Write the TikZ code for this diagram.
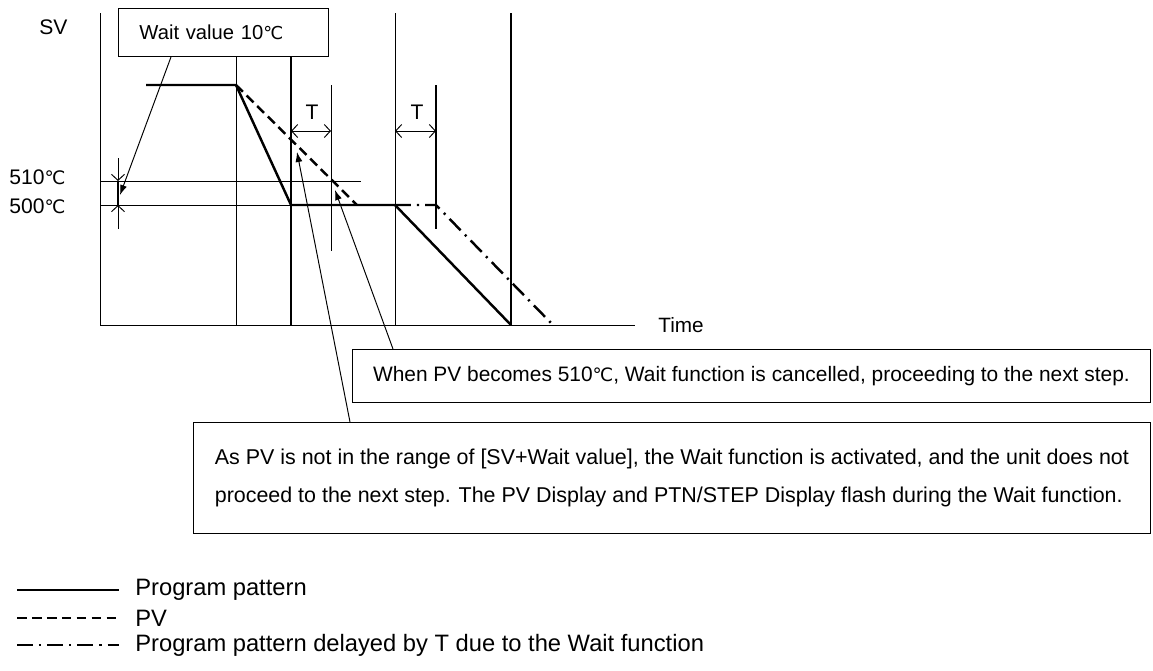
\documentclass[tikz,border=0pt]{standalone}
\usepackage{fontspec}
\setmainfont{Liberation Sans}
\newfontfamily\symfont{DejaVu Sans}
\usetikzlibrary{arrows.meta,calc}
\newcommand{\degC}{{\symfont\scalebox{0.88}{℃}}}
\newcommand{\fsz}[1]{\fontsize{#1}{1.2\dimexpr#1pt\relax}\selectfont}

\begin{document}
\begin{tikzpicture}[
    x=0.02cm, y=-0.02cm,
    font=\fsz{11},
    lbl/.style={inner sep=0pt},
    thin line/.style={line width=0.55pt},
    thick line/.style={line width=1.1pt},
    prog/.style={line width=1.4pt},
    pv/.style={line width=1.4pt, dash pattern=on 5.5pt off 3pt},
    delayed/.style={line width=1.4pt, dash pattern=on 9pt off 3.5pt on 1.2pt off 3.5pt},
    callout/.style={draw, line width=0.55pt, inner sep=0pt},
    pointer/.style={line width=0.55pt, -{Latex[length=0.2cm, width=0.14cm]}},
    dimarrow/.style={line width=0.55pt, -{Straight Barb[length=0.12cm, width=0.26cm]}},
    dimboth/.style={line width=0.55pt, {Straight Barb[length=0.12cm, width=0.26cm]}-{Straight Barb[length=0.12cm, width=0.26cm]}}
]
\useasboundingbox (0,0) rectangle (1153,670);

% ── Callout boxes ────────────────────────────────────────────────────────────
\node[callout, anchor=north west, minimum height=0.96cm, inner xsep=0.42cm,
      text width=3.36cm, align=left, font=\fsz{11.5}] (wait) at (118,8) {Wait value 10\degC};
\node[callout, anchor=north west, minimum width=15.96cm, minimum height=1.06cm, font=\fsz{11.9}] (cancel)
      at (352,349) {When PV becomes 510\degC, Wait function is cancelled, proceeding to the next step.};
\node[callout, anchor=north west, minimum width=19.14cm, minimum height=2.22cm, align=left,
      font=\fontsize{12.2}{21.5}\selectfont] (act) at (193,422)
      {As PV is not in the range of [SV+Wait value], the Wait function is activated, and the unit does not\\
       proceed to the next step. The PV Display and PTN/STEP Display flash during the Wait function.};

% ── Axis labels ──────────────────────────────────────────────────────────────
\node[lbl, anchor=west, font=\fsz{12}] (sv) at (39,27) {SV};
\node[lbl, anchor=west, font=\fsz{11.8}] (time) at (658,325) {Time};
\node[lbl, anchor=west, font=\fsz{12}] (t510) at (9,177) {510\degC};
\node[lbl, anchor=west, font=\fsz{12}] (t500) at (9,206) {500\degC};
\node[lbl, font=\fsz{12}] (tA) at (312,112) {T};
\node[lbl, font=\fsz{12}] (tB) at (417,112) {T};

% ── Axes, levels and step boundaries ─────────────────────────────────────────
\draw[thin line] (100,13) -- (100,325) -- (635,325);
\draw[thin line] (100,181) -- (361,181);
\draw[thin line] (100,205) -- (291,205);
\draw[thin line] (236,56) -- (236,325);
\draw[thick line] (291,56) -- (291,325);
\draw[thin line] (331,85) -- (331,251);
\draw[thin line] (395,13) -- (395,325);
\draw[thick line] (436,85) -- (436,229);
\draw[thick line] (511,13) -- (511,325);

% ── Curves ───────────────────────────────────────────────────────────────────
\draw[prog] (146,85) -- (236,85) -- (291,205) -- (395,205) -- (511,325);
\draw[pv] (236,85) -- (357,205);
\draw[delayed] (395,205) -- (436,205) -- (553,325);

% ── Dimensions ───────────────────────────────────────────────────────────────
\draw[dimarrow] (118,158) -- (118,181);
\draw[dimarrow] (118,229) -- (118,205);
\draw[thick line] (118,181) -- (118,205);
\draw[dimboth] (291,131) -- (331,131);
\draw[dimboth] (395,131) -- (436,131);

% ── Pointers ─────────────────────────────────────────────────────────────────
\coordinate (waittip) at (120,195);
\coordinate (acttip) at (297,152);
\coordinate (canceltip) at (335,190);
\draw[pointer] ($(wait.south west)+(53,0)$) -- (waittip);
\draw[pointer] ($(act.north west)+(157,0)$) -- (acttip);
\draw[pointer] ($(cancel.north west)+(41,0)$) -- (canceltip);

% ── Legend ───────────────────────────────────────────────────────────────────
\foreach \y/\sty/\txt [count=\i] in {590/prog/Program pattern, 618/pv/PV,
    645/delayed/Program pattern delayed by T due to the Wait function} {
    \draw[\sty] (17,\y) -- (119,\y);
    \node[lbl, anchor=west, font=\fsz{13.5}] (key\i) at (135,\y) {\txt};
}

\end{tikzpicture}
\end{document}
